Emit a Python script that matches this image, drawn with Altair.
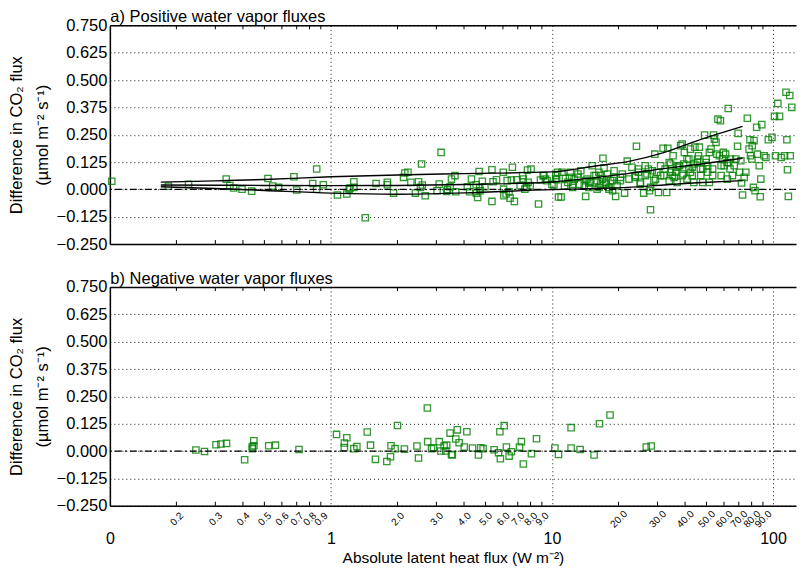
import altair as alt
import pandas as pd

FONT = "Liberation Sans"
W, H = 687, 219
XMIN, XMAX = 0.1, 127
YMIN, YMAX = -0.25, 0.75
TICK_LEN = 4 / H * (YMAX - YMIN)  # inward minor tick length (4 px) in data units

# ---- panel a: positive water vapour fluxes (x = |LE|, y = difference) ----
pos_left = [
    (0.102, 0.037), (0.184, 0.014), (0.227, 0.023), (0.336, 0.047), (0.349, 0.018),
    (0.363, 0.006), (0.396, 0.001), (0.438, -0.008), (0.519, 0.050), (0.545, 0.015),
    (0.580, 0.009), (0.680, 0.058), (0.700, -0.003), (0.827, 0.027), (0.862, 0.093),
    (0.862, 0.001), (0.924, 0.021), (1.07, -0.026), (1.18, -0.021), (1.21, 0.001),
    (1.22, 0.006), (1.27, 0.035), (1.27, 0.009), (1.43, -0.130), (1.60, 0.027),
    (1.80, 0.032), (1.80, 0.021), (1.92, -0.017), (2.13, 0.055), (2.16, 0.075),
    (2.23, 0.078), (2.30, 0.032), (2.41, -0.017), (2.49, 0.035), (2.57, 0.116),
    (2.59, 0.020), (2.54, 0.009), (2.67, -0.029), (3.02, -0.006), (3.09, 0.024),
    (3.15, 0.169), (3.34, -0.009), (3.37, -0.001), (3.46, 0.012), (3.51, 0.047),
    (3.64, 0.063), (3.67, -0.011), (4.14, 0.012), (4.24, -0.011), (4.32, 0.047),
    (4.54, 0.021), (4.55, -0.017), (4.61, -0.037), (4.68, 0.082), (4.71, 0.006),
    (4.74, -0.006), (4.84, 0.037), (4.97, 0.012), (5.35, 0.090), (5.35, -0.055),
    (5.41, 0.035), (5.61, 0.044), (6.02, 0.078), (6.04, 0.001), (6.06, -0.029),
    (6.20, -0.021), (6.27, 0.040), (6.39, -0.011), (6.46, -0.040), (6.55, 0.043),
    (6.62, 0.101), (6.76, -0.055), (6.93, 0.044), (7.18, 0.017), (7.36, 0.063),
    (7.41, 0.047), (7.54, 0.001), (7.67, 0.009), (7.75, 0.088), (7.80, 0.032),
    (7.97, 0.017), (8.04, 0.093), (8.69, -0.067), (8.87, 0.043), (9.12, 0.063),
    (9.34, 0.047),
]

pos_mid = [
    (9.2, 0.063), (9.5, 0.040), (10.0, 0.024), (10.2, 0.020), (10.4, 0.063),
    (10.4, 0.047), (10.5, 0.044), (10.6, 0.078), (10.7, -0.035), (11.0, -0.035),
    (11.1, 0.078), (11.4, 0.017), (11.5, 0.050), (11.8, 0.032), (12.0, 0.055),
    (12.1, 0.078), (12.4, 0.023), (12.4, 0.009), (12.6, 0.047), (13.1, 0.055),
    (13.1, 0.070), (13.3, 0.024), (13.5, 0.085), (14.0, 0.017), (14.2, 0.040),
    (14.2, -0.032), (14.4, 0.047), (14.7, 0.029), (14.7, 0.009), (14.9, 0.032),
    (15.2, 0.108), (15.5, 0.063), (15.8, 0.063), (16.0, 0.040), (16.0, 0.001),
    (16.3, 0.009), (16.3, 0.078), (16.6, 0.063), (16.6, 0.024), (16.9, 0.047),
    (17.0, 0.142), (17.2, 0.097), (17.5, 0.024), (17.5, 0.032), (17.8, 0.070),
    (18.1, 0.001), (18.1, 0.009), (18.4, 0.040), (18.8, 0.040), (18.8, -0.006),
    (19.1, 0.085), (19.1, 0.055), (19.4, -0.032), (19.7, 0.017), (20.4, 0.055),
    (20.4, 0.040), (20.8, 0.070), (21.3, -0.017), (21.9, 0.129), (22.3, 0.047),
    (23.0, 0.101), (23.8, 0.063), (23.8, 0.055), (24.1, 0.197), (24.6, 0.093),
    (24.6, 0.078), (25.1, 0.024), (25.1, 0.032), (26.0, -0.017), (26.4, 0.108),
    (26.4, 0.063), (26.9, 0.070), (27.3, 0.093), (27.6, -0.006), (27.9, -0.093),
    (27.9, 0.009), (28.4, 0.085), (28.9, 0.040), (29.2, 0.161), (29.4, 0.047),
    (29.8, 0.078), (30.3, -0.014), (31.0, 0.108), (31.0, 0.063), (31.8, 0.188),
    (32.1, 0.063), (32.5, 0.093), (33.0, -0.014), (33.4, 0.188), (33.9, 0.123),
    (33.9, 0.040), (34.4, 0.078), (34.4, 0.116), (35.0, 0.063), (35.3, 0.154),
    (35.7, 0.055), (36.3, 0.078), (36.8, 0.101), (36.8, 0.032), (37.4, 0.108),
    (37.8, 0.108), (38.2, 0.200), (38.8, 0.207), (38.8, 0.063), (39.2, 0.070),
    (39.4, 0.116), (39.7, 0.169), (40.8, 0.139), (40.8, 0.047), (41.6, 0.093),
    (41.6, 0.139), (42.3, 0.184), (42.3, 0.078), (43.1, 0.063), (43.1, 0.101),
    (43.8, 0.116), (43.8, 0.032), (44.3, 0.193), (45.5, 0.139), (45.5, 0.123),
]

pos_right = [
    (46.0, 0.154), (46.4, 0.193), (46.9, 0.093), (47.1, 0.063), (48.1, 0.032),
    (48.1, 0.093), (49.0, 0.248), (49.8, 0.139), (49.8, 0.123), (50.6, 0.108),
    (50.6, 0.078), (51.5, 0.169), (51.5, 0.032), (52.4, 0.184), (53.3, 0.063),
    (53.3, 0.093), (53.8, 0.248), (54.3, 0.230), (55.2, 0.215), (55.7, 0.161),
    (56.3, 0.321), (57.2, 0.154), (57.8, 0.314), (58.2, 0.108), (58.2, 0.063),
    (59.1, 0.139), (59.6, 0.169), (60.1, 0.108), (61.0, 0.161), (62.0, 0.123),
    (62.0, 0.047), (62.7, 0.370), (63.0, 0.123), (63.9, 0.093), (64.2, 0.139),
    (65.5, 0.063), (66.7, 0.108), (67.9, 0.139), (69.1, 0.197), (69.5, 0.256),
    (70.5, 0.078), (71.5, 0.131), (72.0, 0.029), (72.8, -0.026), (74.0, 0.055),
    (75.3, 0.078), (76.5, 0.325), (77.9, 0.184), (78.6, 0.227), (79.1, 0.154),
    (80.2, 0.139), (80.5, 0.200), (81.5, 0.009), (82.0, 0.223), (82.9, -0.006),
    (84.3, 0.284), (84.9, 0.161), (86.6, 0.108), (87.5, -0.034), (88.0, 0.047),
    (88.9, 0.296), (91.2, 0.154), (92.8, 0.146), (95.2, 0.227), (98.9, 0.238),
    (101.5, 0.334), (102.6, 0.154), (105.1, 0.393), (107.0, 0.334), (108.8, 0.146),
    (112.7, 0.154), (114.4, 0.444), (115.5, 0.227), (116.2, 0.090), (117.3, -0.032),
    (119.0, 0.429), (119.6, 0.154), (121.5, 0.375),
]

# ---- panel b: negative water vapour fluxes ----
neg_pts = [
    (0.245, 0.005), (0.268, -0.002), (0.302, 0.029), (0.318, 0.032), (0.337, 0.035),
    (0.407, -0.040), (0.441, 0.020), (0.441, 0.011), (0.448, 0.047), (0.448, 0.024),
    (0.523, 0.024), (0.561, 0.027), (0.717, 0.007), (1.06, 0.076), (1.15, 0.037),
    (1.15, 0.016), (1.18, 0.061), (1.27, 0.011), (1.31, 0.021), (1.46, 0.087),
    (1.51, 0.027), (1.59, -0.038), (1.79, -0.048), (1.86, -0.026), (1.87, 0.024),
    (1.95, 0.011), (2.00, 0.117), (2.15, 0.009), (2.45, 0.023), (2.49, -0.032),
    (2.73, 0.197), (2.74, 0.043), (2.85, 0.011), (2.91, 0.015), (3.09, 0.043),
    (3.14, 0.000), (3.25, 0.023), (3.31, 0.000), (3.34, 0.027), (3.46, 0.082),
    (3.51, -0.016), (3.54, -0.018), (3.67, 0.055), (3.73, 0.097), (3.80, 0.038),
    (4.01, 0.018), (4.12, 0.088), (4.37, 0.014), (4.65, -0.018), (4.76, 0.015),
    (4.88, 0.011), (5.47, 0.006), (5.73, -0.008), (5.81, 0.088), (5.84, -0.035),
    (6.08, 0.116), (6.22, 0.018), (6.40, -0.023), (6.55, -0.003), (7.13, 0.018),
    (7.27, 0.043), (7.42, -0.059), (8.07, -0.012), (8.51, 0.056), (10.3, 0.014),
    (10.7, -0.016), (12.2, 0.107), (12.2, 0.014), (13.4, 0.007), (15.5, -0.018),
    (16.4, 0.125), (18.3, 0.165), (26.7, 0.018), (28.1, 0.023),
]

# ---- fitted curves in panel a ----
curve_x = [0.17, 0.3, 0.5, 1.0, 2.0, 4.0, 10.0, 16.0, 22.0, 32.0, 45.5, 72.8]
upper_y = [0.033, 0.039, 0.045, 0.058, 0.066, 0.072, 0.080, 0.108, 0.127, 0.168, 0.223, 0.288]
middle_y = [0.020, 0.019, 0.018, 0.017, 0.018, 0.022, 0.034, 0.055, 0.072, 0.095, 0.114, 0.142]
lower_y = [0.012, 0.004, -0.005, -0.017, -0.022, -0.016, -0.001, 0.004, 0.009, 0.020, 0.030, 0.040]

major_ticks = [0.1, 1, 10, 100]
minor_ticks = [0.2, 0.3, 0.4, 0.5, 0.6, 0.7, 0.8, 0.9,
               2, 3, 4, 5, 6, 7, 8, 9,
               20, 30, 40, 50, 60, 70, 80, 90]
y_ticks = [-0.25, -0.125, 0, 0.125, 0.25, 0.375, 0.5, 0.625, 0.75]

xscale = alt.Scale(type="log", domain=[XMIN, XMAX], nice=False)
yscale = alt.Scale(domain=[YMIN, YMAX], nice=False, zero=False)

Y_TITLE = ["Difference in CO\u2082 flux", "(\u00b5mol m\u207b\u00b2 s\u207b\u00b9)"]
X_TITLE = "Absolute latent heat flux (W m\u207b\u00b2)"

y_axis = alt.Axis(
    orient="left", values=y_ticks, format=".3f", grid=True,
    gridDash=[1, 3], gridColor="black", gridOpacity=0.9, gridWidth=1,
    ticks=False, tickSize=0, domain=True, domainColor="black", domainWidth=1.5,
    labelFontSize=16.5, labelPadding=3, labelColor="black",
    title=Y_TITLE, titleFontSize=16.5, titleLineHeight=26,
    titlePadding=6, titleFontWeight="normal",
)


def panel(points, title, bottom_labels, curves=None):
    pts = pd.DataFrame(points, columns=["x", "y"])
    bot_df = pd.DataFrame({"x": minor_ticks, "lo": YMIN, "hi": YMIN + TICK_LEN})
    top_df = pd.DataFrame({"x": minor_ticks, "lo": YMAX - TICK_LEN, "hi": YMAX})

    main_axis = alt.Axis(
        orient="bottom", values=major_ticks, format="d", grid=True,
        gridDash=[1, 3], gridColor="black", gridOpacity=0.9, gridWidth=1,
        ticks=False, tickSize=0, domain=True, domainColor="black", domainWidth=1.5,
        labels=bottom_labels, labelFontSize=16, labelBaseline="middle",
        labelAlign="center", labelPadding=33, labelColor="black",
        title=X_TITLE if bottom_labels else None,
        titleFontSize=15.5, titlePadding=4, titleFontWeight="normal",
    )

    layers = []
    points_layer = alt.Chart(pts).mark_point(
        shape="square", filled=False, size=40, strokeWidth=1.3,
        color="#008000", opacity=0.8,
    ).encode(
        x=alt.X("x:Q", scale=xscale, axis=main_axis),
        y=alt.Y("y:Q", scale=yscale, axis=y_axis),
    )
    layers.append(points_layer)

    zero = alt.Chart(pd.DataFrame({"y": [0.0]})).mark_rule(
        color="black", strokeDash=[7, 3, 2, 3], strokeWidth=1.2
    ).encode(y=alt.Y("y:Q", scale=yscale, axis=y_axis))
    layers.append(zero)

    if curves is not None:
        rows = []
        for name, ys in curves:
            for xv, yv in zip(curve_x, ys):
                rows.append({"x": xv, "y": yv, "curve": name})
        cdf = pd.DataFrame(rows)
        layers.append(
            alt.Chart(cdf).mark_line(color="black", strokeWidth=1.4, interpolate="monotone")
            .encode(
                x=alt.X("x:Q", scale=xscale, axis=None),
                y=alt.Y("y:Q", scale=yscale, axis=y_axis),
                detail="curve:N",
            )
        )

    minor_axis = alt.Axis(
        orient="bottom", values=minor_ticks, format=".1f", grid=False,
        ticks=False, tickSize=0, domain=False, labels=bottom_labels,
        labelFontSize=10, labelAngle=315, labelAlign="center",
        labelBaseline="middle", labelPadding=13, labelColor="black",
        labelOverlap=False, title=None,
    )
    layers.append(
        alt.Chart(bot_df).mark_rule(color="black", strokeWidth=1).encode(
            x=alt.X("x:Q", scale=xscale, axis=minor_axis),
            y=alt.Y("lo:Q", scale=yscale, axis=y_axis), y2="hi:Q",
        )
    )
    # top frame line, carrying the panel title as its axis title
    top_axis = alt.Axis(
        orient="top", values=major_ticks, grid=False, ticks=False, tickSize=0,
        domain=True, domainColor="black", domainWidth=1.5, labels=False,
        title=title, titleFontSize=16.5, titleFontWeight="normal",
        titleAnchor="start", titleAlign="left", titleX=0,
        titleBaseline="alphabetic", titlePadding=4, titleColor="black",
    )
    layers.append(
        alt.Chart(top_df).mark_rule(color="black", strokeWidth=1).encode(
            x=alt.X("x:Q", scale=xscale, axis=top_axis),
            y=alt.Y("lo:Q", scale=yscale, axis=y_axis), y2="hi:Q",
        )
    )

    return alt.layer(*layers).resolve_axis(x="independent").properties(
        width=W, height=H,
    )


panel_a = panel(pos_left + pos_mid + pos_right, "a) Positive water vapor fluxes", False,
                curves=[("upper", upper_y), ("middle", middle_y), ("lower", lower_y)])
panel_b = panel(neg_pts, "b) Negative water vapor fluxes", True)

chart = alt.vconcat(panel_a, panel_b, spacing=17).properties(
    padding={"left": 0, "top": 0, "right": 0, "bottom": 0}
).configure_view(stroke=None).configure_axis(
    labelFont=FONT, titleFont=FONT, titleColor="black"
)

chart.save("out.html", embed_options={"renderer": "svg", "actions": False})
